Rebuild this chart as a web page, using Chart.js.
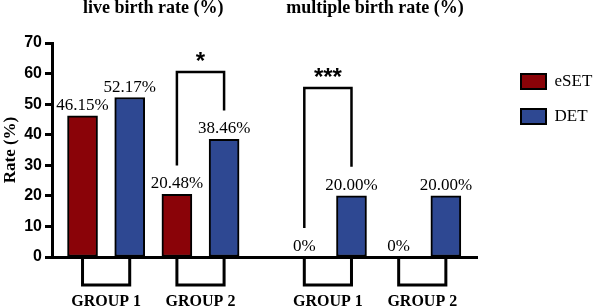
<!DOCTYPE html>
<html lang="en">
<head>
    <meta charset="UTF-8">
    <title>Live birth rate and multiple birth rate</title>
    <script src="https://cdn.jsdelivr.net/npm/chart.js"></script>
    <style>
        html, body { margin: 0; padding: 0; background: #fff; }
        #wrap { width: 596px; height: 307px; }
    </style>
</head>
<body>
<div id="wrap">
    <canvas id="rateChart"></canvas>
</div>

<script>
    // data
    const panelTitles = ['live birth rate (%)', 'multiple birth rate (%)'];
    const groupNames = ['GROUP 1', 'GROUP 2'];
    const esetRates = [[46.15, 20.48], [0, 0]];
    const detRates = [[52.17, 38.46], [20.00, 20.00]];
    const sigMarks = [
        { panel: 0, group: 1, mark: '*' },
        { panel: 1, group: 0, mark: '***' }
    ];
    const yTicks = [0, 10, 20, 30, 40, 50, 60, 70];

    // layout of the x slots (one unit = one bar step)
    const PANEL_STEP = 4.7;
    const slotX = (p, g, s) => p * PANEL_STEP + g * 2 + s;
    // bracket tops (y units) for the significance marks
    const sigTop = [60.5, 55.3];

    const serif = '"Liberation Serif", "Times New Roman", serif';
    const sans = '"Liberation Sans", Arial, sans-serif';

    function toPoints(rates, s) {
        const pts = [];
        rates.forEach((row, p) => row.forEach((v, g) => pts.push({ x: slotX(p, g, s), y: v })));
        return pts;
    }

    function fmt(v) {
        return v === 0 ? '0%' : v.toFixed(2) + '%';
    }

    const annotations = {
        id: 'annotations',
        afterDatasetsDraw(chart) {
            const ctx = chart.ctx;
            const x = chart.scales.x;
            const y = chart.scales.y;
            const metas = [chart.getDatasetMeta(0), chart.getDatasetMeta(1)];
            const nG = groupNames.length;
            ctx.save();

            // value labels
            ctx.fillStyle = '#000';
            ctx.font = '17px ' + serif;
            ctx.textAlign = 'center';
            ctx.textBaseline = 'alphabetic';
            metas.forEach((meta, s) => {
                meta.data.forEach((bar, i) => {
                    const v = chart.data.datasets[s].data[i].y;
                    ctx.fillText(fmt(v), bar.x, bar.y - 6);
                });
            });

            // panel titles
            ctx.font = 'bold 18px ' + serif;
            ctx.textBaseline = 'middle';
            panelTitles.forEach((t, p) => {
                const cx = (x.getPixelForValue(slotX(p, 0, 0)) + x.getPixelForValue(slotX(p, nG - 1, 1))) / 2;
                ctx.fillText(t, cx, 8);
            });

            // group brackets under the axis
            const base = y.getPixelForValue(0);
            ctx.strokeStyle = '#000';
            ctx.lineWidth = 3;
            ctx.lineJoin = 'miter';
            ctx.font = 'bold 16px ' + serif;
            panelTitles.forEach((t, p) => {
                groupNames.forEach((name, g) => {
                    const xa = x.getPixelForValue(slotX(p, g, 0));
                    const xb = x.getPixelForValue(slotX(p, g, 1));
                    ctx.beginPath();
                    ctx.moveTo(xa, base + 1);
                    ctx.lineTo(xa, base + 28);
                    ctx.lineTo(xb, base + 28);
                    ctx.lineTo(xb, base + 1);
                    ctx.stroke();
                    ctx.fillText(name, (xa + xb) / 2, base + 45);
                });
            });

            // significance brackets
            sigMarks.forEach((m, k) => {
                const i = m.panel * nG + m.group;
                const a = metas[0].data[i];
                const b = metas[1].data[i];
                const top = y.getPixelForValue(sigTop[k]);
                ctx.lineWidth = 2.5;
                ctx.beginPath();
                ctx.moveTo(a.x, a.y - 29);
                ctx.lineTo(a.x, top);
                ctx.lineTo(b.x, top);
                ctx.lineTo(b.x, b.y - 29);
                ctx.stroke();
                ctx.font = 'bold 24px ' + sans;
                ctx.textBaseline = 'middle';
                ctx.fillText(m.mark, (a.x + b.x) / 2, top - 10);
            });

            ctx.restore();
        }
    };

    const ctx = document.getElementById('rateChart').getContext('2d');
    new Chart(ctx, {
        type: 'bar',
        data: {
            datasets: [
                {
                    label: 'eSET',
                    data: toPoints(esetRates, 0),
                    backgroundColor: '#8a0308',
                    borderColor: '#000',
                    borderWidth: 2,
                    borderSkipped: false,
                    grouped: false,
                    barThickness: 30
                },
                {
                    label: 'DET',
                    data: toPoints(detRates, 1),
                    backgroundColor: '#2e4892',
                    borderColor: '#000',
                    borderWidth: 2,
                    borderSkipped: false,
                    grouped: false,
                    barThickness: 30
                }
            ]
        },
        options: {
            responsive: true,
            maintainAspectRatio: false,
            animation: false,
            layout: {
                padding: { top: 43, bottom: 50, left: 0, right: 0 }
            },
            plugins: {
                tooltip: { enabled: false },
                legend: {
                    position: 'right',
                    align: 'start',
                    maxWidth: 93,
                    title: { display: true, text: '', font: { size: 10, lineHeight: 1 }, padding: 1 },
                    labels: {
                        boxWidth: 25,
                        boxHeight: 15,
                        padding: 18,
                        color: '#000',
                        font: { family: serif, size: 17 }
                    }
                }
            },
            scales: {
                x: {
                    type: 'linear',
                    offset: false,
                    min: -0.647,
                    max: 8.36,
                    grid: { display: false, offset: false },
                    ticks: { display: false },
                    border: { display: true, color: '#000', width: 3 },
                    afterFit(scale) { scale.height = 0; }
                },
                y: {
                    min: 0,
                    max: 70,
                    afterBuildTicks(scale) { scale.ticks = yTicks.map(v => ({ value: v })); },
                    grid: {
                        drawOnChartArea: false,
                        drawTicks: true,
                        tickLength: 7,
                        tickWidth: 3,
                        color: '#000'
                    },
                    border: { display: true, color: '#000', width: 3 },
                    ticks: {
                        color: '#000',
                        padding: 3,
                        font: { family: sans, size: 16, weight: 'bold' }
                    },
                    title: {
                        display: true,
                        text: 'Rate (%)',
                        color: '#000',
                        padding: 0,
                        font: { family: serif, size: 17, weight: 'bold' }
                    },
                    afterFit(scale) { scale.width = 52; }
                },
                gap: {
                    position: 'right',
                    display: true,
                    grid: { display: false },
                    ticks: { display: false },
                    border: { display: false },
                    afterFit(scale) { scale.width = 26; }
                }
            }
        },
        plugins: [annotations]
    });
</script>
</body>
</html>
